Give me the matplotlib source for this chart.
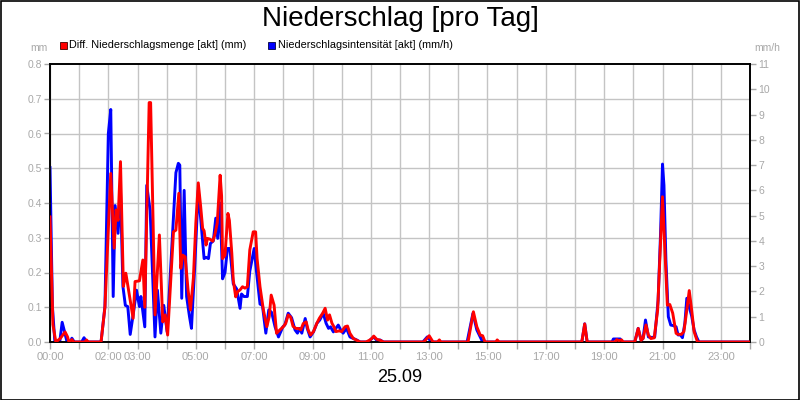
import matplotlib
matplotlib.use('Agg')
import matplotlib.pyplot as plt
from matplotlib.patches import Rectangle
from matplotlib.ticker import FixedLocator
import numpy as np

plt.rcParams['font.family'] = ['Liberation Sans', 'DejaVu Sans']

title = 'Niederschlag [pro Tag]'
date_label = '25.09'
red_label = 'Diff. Niederschlagsmenge [akt] (mm)'
blue_label = 'Niederschlagsintensität [akt] (mm/h)'
left_unit = 'mm'
right_unit = 'mm/h'

# Differential precipitation amount (mm), time in minutes of the day
red_minutes = [0, 6, 12, 21, 31, 36, 39, 45, 49, 72, 75, 79, 105, 113, 125, 132, 136, 140, 145, 151,
               156, 165, 171, 175, 184, 191, 195, 204, 207, 216, 225, 232, 237, 242, 254, 259, 265, 269,
               273, 278, 284, 289, 295, 300, 305, 310, 314, 317, 321, 324, 329, 335, 339, 344, 350, 353,
               355, 360, 366, 369, 374, 377, 382, 386, 391, 396, 401, 406, 411, 418, 423, 426, 432, 439,
               446, 451, 455, 461, 466, 473, 480, 485, 490, 495, 500, 506, 511, 516, 521, 527, 531, 536,
               542, 549, 554, 561, 566, 571, 575, 580, 584, 588, 595, 600, 607, 612, 617, 624, 631, 638,
               650, 657, 662, 666, 672, 679, 686, 769, 780, 788, 797, 801, 804, 860, 871, 878, 885, 890,
               895, 917, 920, 924, 1094, 1100, 1105, 1162, 1166, 1170, 1176, 1179, 1203, 1210, 1216, 1220,
               1226, 1231, 1236, 1243, 1250, 1255, 1260, 1265, 1270, 1275, 1281, 1288, 1292, 1299, 1304,
               1310, 1315, 1320, 1325, 1332, 1440]
red_mm = [0.36, 0.05, 0.0, 0.01, 0.029, 0.015, 0.0, 0.007, 0.0, 0.0, 0.006, 0.0, 0.0, 0.10, 0.485, 0.27,
          0.38, 0.35, 0.519, 0.16, 0.198, 0.12, 0.068, 0.174, 0.176, 0.236, 0.10, 0.689, 0.689, 0.078,
          0.308, 0.058, 0.078, 0.02, 0.317, 0.322, 0.428, 0.212, 0.25, 0.245, 0.15, 0.092, 0.185, 0.342,
          0.458, 0.389, 0.327, 0.32, 0.279, 0.298, 0.296, 0.29, 0.308, 0.342, 0.48, 0.42, 0.24, 0.25,
          0.37, 0.35, 0.255, 0.178, 0.13, 0.145, 0.15, 0.159, 0.155, 0.159, 0.265, 0.317, 0.317, 0.24,
          0.159, 0.092, 0.044, 0.073, 0.135, 0.106, 0.025, 0.035, 0.044, 0.054, 0.078, 0.072, 0.045,
          0.039, 0.039, 0.035, 0.053, 0.058, 0.035, 0.02, 0.03, 0.054, 0.068, 0.083, 0.097, 0.063,
          0.078, 0.054, 0.044, 0.03, 0.032, 0.03, 0.044, 0.046, 0.025, 0.01, 0.005, 0.0, 0.0, 0.005,
          0.01, 0.017, 0.008, 0.005, 0.0, 0.0, 0.018, 0.0, 0.0, 0.006, 0.0, 0.0, 0.087, 0.044, 0.02,
          0.018, 0.0, 0.0, 0.006, 0.0, 0.0, 0.052, 0.0, 0.0, 0.007, 0.004, 0.006, 0.0, 0.0, 0.039,
          0.005, 0.01, 0.049, 0.02, 0.01, 0.012, 0.092, 0.255, 0.418, 0.265, 0.106, 0.108, 0.083,
          0.025, 0.022, 0.022, 0.03, 0.092, 0.148, 0.092, 0.03, 0.0, 0.0]

# Precipitation intensity (mm/h), time in minutes of the day
blue_minutes = [0, 5, 10, 20, 25, 30, 35, 42, 45, 50, 65, 70, 75, 105, 113, 120, 125, 130, 134, 140, 145,
                150, 155, 160, 165, 172, 178, 184, 187, 195, 199, 206, 216, 221, 228, 234, 241, 259, 264,
                267, 271, 276, 281, 287, 291, 298, 305, 312, 317, 321, 326, 330, 336, 341, 345, 350, 355,
                360, 365, 370, 377, 384, 391, 394, 399, 406, 411, 420, 425, 432, 437, 444, 450, 456, 463,
                470, 479, 483, 490, 497, 504, 509, 514, 518, 525, 529, 535, 542, 549, 555, 562, 568, 573,
                577, 583, 588, 593, 598, 603, 610, 617, 624, 631, 638, 655, 662, 666, 672, 679, 686, 767,
                776, 782, 786, 858, 870, 878, 883, 888, 891, 1094, 1100, 1105, 1156, 1159, 1173, 1177,
                1203, 1210, 1216, 1220, 1225, 1231, 1238, 1244, 1251, 1256, 1260, 1263, 1267, 1272, 1277,
                1282, 1288, 1292, 1297, 1301, 1306, 1310, 1315, 1320, 1325, 1330, 1335, 1440]
blue_mmh = [6.9, 1.4, 0.0, 0.0, 0.78, 0.4, 0.0, 0.0, 0.15, 0.0, 0.0, 0.17, 0.0, 0.0, 1.4, 8.25, 9.2, 1.8,
            5.4, 4.3, 6.0, 2.2, 1.45, 1.4, 0.3, 1.2, 2.05, 1.4, 1.8, 0.6, 6.2, 5.2, 0.2, 2.05, 0.35, 1.45,
            0.4, 6.7, 7.07, 7.0, 1.73, 6.0, 1.8, 1.0, 0.54, 3.1, 6.0, 4.4, 3.3, 3.35, 3.3, 3.9, 4.0, 4.9,
            4.1, 5.5, 2.5, 2.75, 3.7, 3.7, 2.3, 2.1, 1.33, 1.9, 1.8, 1.8, 2.8, 3.7, 2.75, 1.5, 1.45, 0.35,
            1.27, 1.17, 0.6, 0.2, 0.6, 0.67, 1.14, 0.96, 0.48, 0.35, 0.54, 0.35, 0.93, 0.55, 0.2, 0.4,
            0.74, 0.87, 1.14, 0.74, 0.54, 0.6, 0.4, 0.54, 0.67, 0.48, 0.35, 0.54, 0.2, 0.14, 0.08, 0.0,
            0.0, 0.14, 0.2, 0.07, 0.08, 0.0, 0.0, 0.2, 0.07, 0.0, 0.0, 1.13, 0.48, 0.28, 0.08, 0.0, 0.0,
            0.72, 0.0, 0.0, 0.12, 0.12, 0.0, 0.0, 0.54, 0.07, 0.14, 0.87, 0.2, 0.18, 0.2, 1.65, 4.3, 7.04,
            6.2, 3.25, 1.0, 0.67, 0.65, 0.6, 0.28, 0.28, 0.17, 0.74, 1.73, 1.38, 1.03, 0.48, 0.2, 0.0, 0.0]

hour_ticks = list(range(25))
labeled_hours = [0, 2, 3, 5, 7, 9, 11, 13, 15, 17, 19, 21, 23]
left_ticks = [0.0, 0.1, 0.2, 0.3, 0.4, 0.5, 0.6, 0.7, 0.8]
right_ticks = list(range(12))

GRAY = '#a8a8a8'
GRID = '#c4c4c4'

fig = plt.figure(figsize=(8, 4), dpi=100)
fig.patch.set_facecolor('white')

ax2 = fig.add_axes([50/800, 58/400, 700/800, 278/400])  # blue, right axis (behind)
ax1 = ax2.twinx()  # red, left axis (in front)
ax2.yaxis.tick_right()
ax2.yaxis.set_label_position('right')
ax1.yaxis.tick_left()
ax1.yaxis.set_label_position('left')

red_h = np.array(red_minutes) / 60.0
blue_h = np.array(blue_minutes) / 60.0

ax2.plot(blue_h, blue_mmh, color='#0000ff', lw=2.1, solid_joinstyle='round', zorder=3)
ax1.plot(red_h, red_mm, color='#ff0000', lw=2.1, solid_joinstyle='round', zorder=3)

ax1.set_xlim(0, 24)
ax2.set_xlim(0, 24)
ax1.set_ylim(0, 0.8)
ax2.set_ylim(0, 11)

# x ticks
ax2.xaxis.set_major_locator(FixedLocator(hour_ticks))
ax2.set_xticklabels(['%02d:00' % h if h in labeled_hours else '' for h in hour_ticks])
ax1.xaxis.set_major_locator(FixedLocator(hour_ticks))

# left ticks
ax1.set_yticks(left_ticks)
ax1.set_yticklabels(['%.1f' % v for v in left_ticks])
# right ticks
ax2.set_yticks(right_ticks)
ax2.set_yticklabels([str(v) for v in right_ticks])

# grid drawn on the back axes: vertical at hours, horizontal at left-axis steps
ax2.set_yticks(np.linspace(0, 11, len(left_ticks)), minor=True)
ax2.grid(True, which='major', axis='x', color=GRID, lw=1.0)
ax2.grid(True, which='minor', axis='y', color=GRID, lw=1.0)
ax2.tick_params(axis='y', which='minor', length=0)

for ax in (ax1, ax2):
    ax.tick_params(axis='both', which='major', colors=GRAY, labelsize=7.5, length=4, width=1,
                   direction='out', pad=2)
    for s in ax.spines.values():
        s.set_color('black')
        s.set_linewidth(1.2)
ax2.tick_params(axis='x', length=5, labelsize=8)

ax1.set_zorder(ax2.get_zorder() + 1)
ax1.patch.set_visible(False)
ax2.patch.set_facecolor('white')

# title and texts
fig.text(0.5, 1 - 19/400, title, ha='center', va='center', fontsize=20, color='black')
fig.text(0.5, 1 - 377/400, date_label, ha='center', va='center', fontsize=13, color='black')
fig.text(48/800, 1 - 48/400, left_unit, ha='right', va='center', fontsize=7.5, color=GRAY)
fig.text(754/800, 1 - 48/400, right_unit, ha='left', va='center', fontsize=7.5, color=GRAY)

# legend
fig.add_artist(Rectangle((60/800, 1 - 48.5/400), 7/800, 7/400, transform=fig.transFigure,
                         facecolor='#ff0000', edgecolor='#400000', lw=0.6))
fig.text(69/800, 1 - 45/400, red_label, ha='left', va='center', fontsize=7.8, color='black')
fig.add_artist(Rectangle((268/800, 1 - 48.5/400), 7/800, 7/400, transform=fig.transFigure,
                         facecolor='#0000ff', edgecolor='#000040', lw=0.6))
fig.text(278/800, 1 - 45/400, blue_label, ha='left', va='center', fontsize=7.8, color='black')

# figure border
fig.add_artist(Rectangle((0.5/800, 0.5/400), 798.5/800, 398.5/400, transform=fig.transFigure,
                         fill=False, edgecolor='black', lw=1.2))

fig.savefig('out.png', dpi=100)
